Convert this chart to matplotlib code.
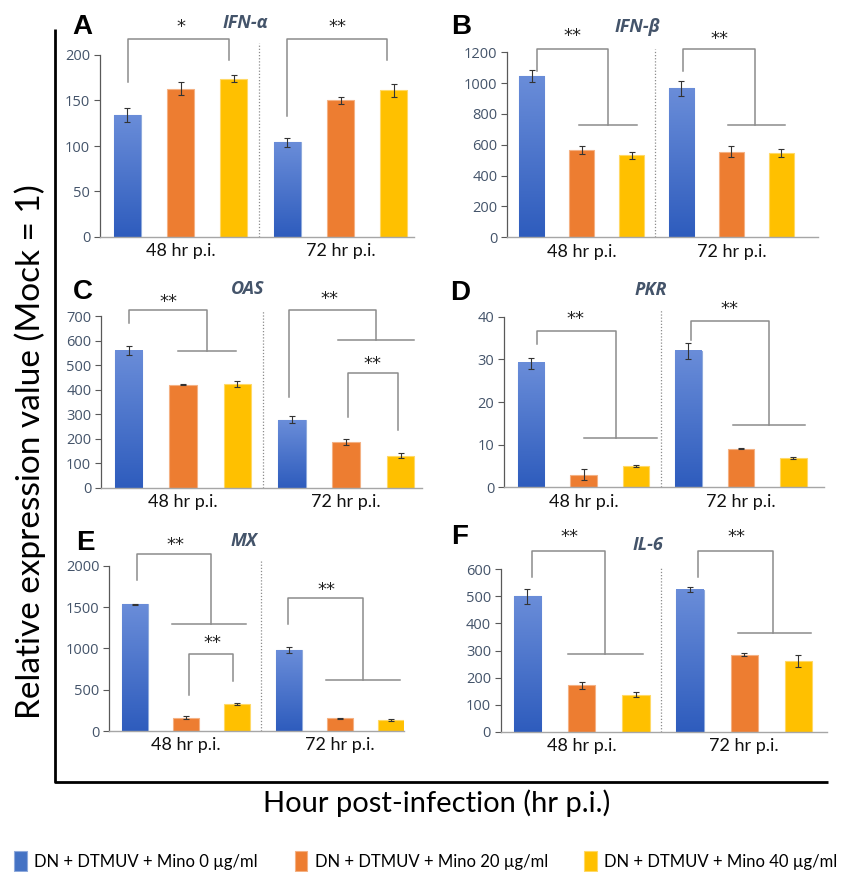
import numpy as np
import matplotlib
matplotlib.use("Agg")
import matplotlib.pyplot as plt
from matplotlib.lines import Line2D
from matplotlib.colors import LinearSegmentedColormap

# ---------------- data ----------------
groups = ["48 hr p.i.", "72 hr p.i."]
series_labels = ["DN + DTMUV + Mino 0 µg/ml",
                 "DN + DTMUV + Mino 20 µg/ml",
                 "DN + DTMUV + Mino 40 µg/ml"]
panel_letters = ["A", "B", "C", "D", "E", "F"]
genes = ["IFN-α", "IFN-β", "OAS", "PKR", "MX", "IL-6"]

# values[panel] = [[48h: mino0, mino20, mino40], [72h: ...]]
ifna_vals = [[134, 163, 174], [104, 150, 161]]
ifna_err = [[8, 7, 4], [5, 4, 7]]
ifnb_vals = [[1044, 566, 532], [966, 555, 545]]
ifnb_err = [[39, 27, 23], [51, 34, 25]]
oas_vals = [[559, 420, 424], [277, 186, 130]]
oas_err = [[20, 2, 13], [15, 13, 10]]
pkr_vals = [[29.1, 2.95, 5.06], [31.9, 9.05, 6.95]]
pkr_err = [[1.25, 1.3, 0.2], [1.9, 0.1, 0.2]]
mx_vals = [[1532, 161, 327], [980, 153, 133]]
mx_err = [[10, 18, 10], [34, 6, 18]]
il6_vals = [[500, 171, 137], [525, 285, 262]]
il6_err = [[27, 13, 9], [9, 5, 23]]

y_max = [200, 1200, 700, 40, 2000, 600]
y_step = [50, 200, 100, 10, 500, 100]

# significance brackets (data coords):
# (x_left, y_left_bottom, x_right, y_right_bottom, y_top, text, text_x, text_y, tail)
brackets = [
    [(-0.33, 170, 0.30, 194, 218, "*", 0.0, 231, None),
     (0.667, 133, 1.29, 194, 218, "**", 0.978, 231, None)],
    [(-0.30, 1080, 0.175, 726, 1221, "**", -0.06, 1307, (-0.017, 0.368)),
     (0.677, 1080, 1.157, 726, 1221, "**", 0.917, 1286, (0.977, 1.357))],
    [(-0.329, 670, 0.147, 559, 723, "**", -0.092, 759, (-0.029, 0.325)),
     (0.648, 368, 1.184, 601, 725, "**", 0.898, 770, (0.947, 1.417)),
     (1.010, 290, 1.315, 235, 469, "**", 1.164, 504, None)],
    [(-0.295, 33.7, 0.203, 11.5, 36.7, "**", -0.049, 39.4, (0.002, 0.464)),
     (0.680, 34.5, 1.180, 14.5, 39.0, "**", 0.930, 41.9, (0.951, 1.409))],
    [(-0.320, 1827, 0.162, 1298, 2145, "**", -0.071, 2250, (-0.093, 0.390)),
     (0.018, 435, 0.305, 605, 931, "**", 0.169, 1061, None),
     (0.660, 1290, 1.147, 613, 1605, "**", 0.914, 1706, (0.909, 1.390))],
    [(-0.308, 573, 0.145, 287, 669, "**", -0.072, 721, (-0.082, 0.375)),
     (0.717, 573, 1.175, 366, 669, "**", 0.949, 721, (0.959, 1.410))],
]
sep_top = [213, 1221, 725, 41.5, 2068, 610]

all_vals = [ifna_vals, ifnb_vals, oas_vals, pkr_vals, mx_vals, il6_vals]
all_errs = [ifna_err, ifnb_err, oas_err, pkr_err, mx_err, il6_err]

# ---------------- layout ----------------
W, H = 842, 872
# (left px, right px, y of zero px, y of top tick px)
axes_px = [(100, 414, 237, 55), (507, 818, 237.3, 52.3),
           (101, 421.7, 487.7, 316), (504, 824, 487.3, 316.7),
           (109, 404, 731, 565.7), (500.7, 826.7, 731.7, 569.3)]
xlims = [(-0.503, 1.459), (-0.497, 1.577), (-0.503, 1.463),
         (-0.506, 1.528), (-0.500, 1.416), (-0.498, 1.507)]
title_px = [(245, 23), (637, 27), (248, 289), (651, 290), (244, 541), (648, 545)]
letter_px = [(82, 27), (461, 27), (83, 292), (460, 293), (85, 543), (460, 537)]

colors = ["#4472C4", "#ED7D31", "#FFC000"]
edge_cols = ["#8FAADC", "#F4B183", "#FFD966"]
blue_grad = LinearSegmentedColormap.from_list("bg", ["#2E5CBD", "#6A8DD9"])
tick_col = "#44546A"
offset = 1 / 3
bw = 0.168

fig = plt.figure(figsize=(W / 100, H / 100), dpi=100)

bar_handles = None
for i in range(6):
    L, R, y0, yt = axes_px[i]
    ax = fig.add_axes([L / W, 1 - y0 / H, (R - L) / W, (y0 - yt) / H])
    vals = np.array(all_vals[i])
    errs = np.array(all_errs[i])
    xg = np.arange(len(groups))
    handles = []
    for s in range(3):
        xs = xg + (s - 1) * offset
        b = ax.bar(xs, vals[:, s], width=bw, color=colors[s],
                   edgecolor=edge_cols[s], linewidth=0.8, zorder=2,
                   label=series_labels[s])
        ax.errorbar(xs, vals[:, s], yerr=errs[:, s], fmt="none",
                    ecolor="#333333", elinewidth=0.8, capsize=2.2,
                    capthick=0.8, zorder=4)
        handles.append(b)
        if s == 0:
            grad = np.linspace(0, 1, 256).reshape(-1, 1)
            for rect in b.patches:
                x0 = rect.get_x()
                w = rect.get_width()
                h = rect.get_height()
                ax.imshow(grad, extent=[x0, x0 + w, 0, h], aspect="auto",
                          cmap=blue_grad, origin="lower", zorder=2.5,
                          interpolation="bilinear")
    if bar_handles is None:
        bar_handles = handles
    ax.set_xlim(*xlims[i])
    ax.set_ylim(0, y_max[i])
    ax.set_yticks(np.arange(0, y_max[i] + 0.001, y_step[i]))
    ax.set_xticks(xg)
    ax.set_xticklabels(groups, fontsize=13, family="Lato", color="#111111")
    ax.tick_params(axis="x", length=0, pad=4.5)
    ax.tick_params(axis="y", length=4, width=0.8, color="#595959",
                   labelcolor=tick_col, labelsize=10.5, pad=3)
    for lab in ax.get_yticklabels():
        lab.set_family("Open Sans")
    for sp in ["top", "right"]:
        ax.spines[sp].set_visible(False)
    ax.spines["left"].set_color("#595959")
    ax.spines["left"].set_linewidth(0.9)
    ax.spines["bottom"].set_color("#A6A6A6")
    ax.spines["bottom"].set_linewidth(1.0)
    ax.set_facecolor("none")

    # separator
    ax.plot([0.49, 0.49], [0, sep_top[i]], ls=(0, (1, 1.5)), color="#8C8C8C",
            lw=0.9, clip_on=False, zorder=1)

    # brackets
    for (xl, yl, xr, yr, ytop, txt, tx, ty, tail) in brackets[i]:
        ax.plot([xl, xl, xr, xr], [yl, ytop, ytop, yr], color="#8C8C8C",
                lw=1.1, clip_on=False, zorder=3)
        if tail is not None:
            ax.plot([tail[0], tail[1]], [yr, yr], color="#8C8C8C", lw=1.1,
                    clip_on=False, zorder=3)
        ax.text(tx, ty, txt, ha="center", va="center", fontsize=13,
                family="DejaVu Sans", color="#222222", clip_on=False)

    tx_, ty_ = title_px[i]
    fig.text(tx_ / W, 1 - ty_ / H, genes[i], ha="center", va="center",
             fontsize=13, fontweight="bold", fontstyle="italic",
             family="Open Sans", color=tick_col)
    lx, ly = letter_px[i]
    fig.text(lx / W, 1 - ly / H, panel_letters[i], ha="center", va="center",
             fontsize=20, fontweight="bold", family="Liberation Sans",
             color="black")

# outer L frame
fig.add_artist(Line2D([55 / W, 55 / W, 828 / W], [1 - 29 / H, 1 - 782 / H, 1 - 782 / H],
                      color="black", lw=2.0, solid_capstyle="butt"))

fig.text(30 / W, 1 - 452 / H, "Relative expression value (Mock = 1)",
         rotation=90, ha="center", va="center", fontsize=24, family="Lato")
fig.text(437 / W, 1 - 803 / H, "Hour post-infection (hr p.i.)",
         ha="center", va="center", fontsize=21, family="Lato")

fig.legend(bar_handles, series_labels, loc="center",
           bbox_to_anchor=(426 / W, 1 - 861 / H), ncol=3, frameon=False,
           prop={"family": "Lato", "size": 12}, handlelength=0.75,
           handleheight=1.5, handletextpad=0.45, columnspacing=2.2,
           borderaxespad=0, borderpad=0)

fig.savefig("out.png", dpi=100)
